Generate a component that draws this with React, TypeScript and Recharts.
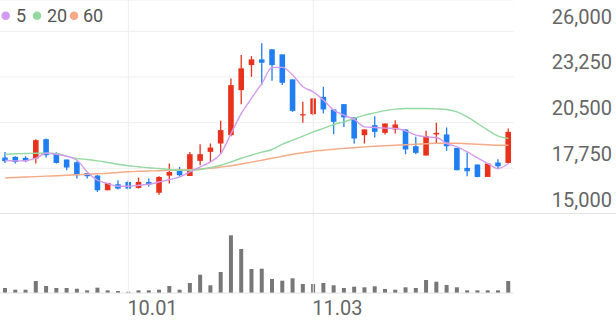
import React from 'react';
import { ComposedChart, BarChart, Bar, Line, XAxis, YAxis, CartesianGrid, ReferenceLine } from 'recharts';

const dates = [
  '09.15','09.16','09.17','09.18','09.19','09.22','09.23','09.24','09.25','09.26',
  '09.29','09.30','10.01','10.02','10.10','10.13','10.14','10.15','10.16','10.17',
  '10.20','10.21','10.22','10.23','10.24','10.27','10.28','10.29','10.30','10.31',
  '11.03','11.04','11.05','11.06','11.07','11.10','11.11','11.12','11.13','11.14',
  '11.17','11.18','11.19','11.20','11.21','11.24','11.25','11.26','11.27','11.28',
];

const opens = [
  18400,18440,18380,18340,19505,18640,18280,18120,17470,17315,
  16430,16790,16930,16570,16930,16280,17310,17635,17290,18200,
  18740,19245,19745,22460,23965,24310,24915,24610,23105,20935,
  21010,22055,21295,21615,20815,19745,20350,19885,20090,20090,
  19080,18520,19790,19790,18980,17775,17980,17230,18100,18075,
];
const highs = [
  18740,18480,18480,19505,19545,18720,18280,18180,17470,17350,
  16870,17030,17030,17195,17135,17275,18040,17835,18740,19200,
  19245,20610,23165,24570,24510,25275,24915,24610,23105,21755,
  21960,22660,21295,21615,20815,20090,20890,20450,20650,20090,
  19645,20005,20490,20210,18980,18700,17980,18040,18300,20150,
];
const lows = [
  18075,18040,18120,18040,18400,18040,17635,17135,17135,16325,
  16430,16470,16470,16530,16650,16160,16830,17230,17290,17935,
  18135,18600,19685,21615,23260,22760,23020,22760,21150,20490,
  20950,21055,19805,20245,19245,19245,19610,19790,19850,18600,
  18600,18520,19280,18800,17635,17275,17210,17230,17695,18040,
];
const closes = [
  18180,18140,18180,19445,18540,18075,17800,17335,17275,16430,
  16870,16530,16530,16930,16780,17230,17530,17335,18600,18600,
  19000,20050,22760,23770,24310,24105,23965,22900,21210,21010,
  21960,21295,20550,20815,19545,20090,19945,20450,20390,18885,
  18680,19685,19885,19080,17635,17575,17230,18040,17875,19945,
];

const ma5 = [
  18238,18196,18208,18359,18660,18600,18479,18238,17533,17032,
  16833,16670,16670,16731,16791,16930,17074,17231,17533,17834,
  18136,18642,19848,21054,21977,22863,23828,23828,23364,22658,
  22357,21856,21253,20952,20692,20246,20210,20168,20150,20005,
  19746,19643,19607,19245,19040,18739,18377,18039,17738,18039,
];
const ma20 = [
  18582,18630,18642,18660,18660,18642,18479,18341,18280,18196,
  18099,17997,17906,17846,17786,17738,17677,17635,17635,17677,
  17798,17937,18136,18359,18540,18721,18883,19203,19444,19685,
  19945,20150,20391,20548,20753,20952,21090,21223,21313,21356,
  21356,21356,21332,21295,21151,20849,20451,20047,19685,19547,
];
const ma60 = [
  17170,17200,17225,17250,17280,17300,17330,17360,17390,17420,
  17450,17500,17545,17570,17590,17605,17625,17645,17665,17710,
  17755,17830,17905,18010,18120,18240,18360,18480,18600,18690,
  18780,18840,18900,18950,18990,19040,19080,19110,19140,19170,
  19200,19230,19260,19260,19260,19230,19200,19170,19140,19140,
];

const volumes = [
  100000,66000,66000,240000,140000,100000,100000,86000,54000,106000,
  54000,40000,26000,54000,54000,66000,140000,66000,200000,366000,
  154000,420000,1154000,880000,480000,486000,280000,246000,294000,180000,
  180000,200000,154000,100000,126000,114000,134000,80000,66000,114000,
  100000,260000,226000,160000,114000,54000,54000,54000,54000,240000,
];

const priceTicks = [15000, 17750, 20500, 23250, 26000];
const priceTickLabels = ['15,000', '17,750', '20,500', '23,250', '26,000'];
const xTickLabels = ['10.01', '11.03'];
const legendNames = ['5', '20', '60'];

const RED = '#e8321c';
const BLUE = '#1f7ff2';
const C5 = '#d39bf0';
const C20 = '#94d9a2';
const C60 = '#f6aa86';
const GRID = '#eeeeee';
const FONT = 'Roboto, "Noto Sans", sans-serif';

const data = dates.map((d, i) => ({
  date: d,
  open: opens[i],
  high: highs[i],
  low: lows[i],
  close: closes[i],
  ma5: ma5[i],
  ma20: ma20[i],
  ma60: ma60[i],
  volume: volumes[i],
}));

const Candle = (props: any) => {
  const { x, y, width, height, payload } = props;
  if (!payload) return null;
  const { open, close, high, low } = payload;
  const top = Math.min(y, y + height);
  const h = Math.abs(height);
  const ratio = high === low ? 0 : h / (high - low);
  const cx = x + width / 2;
  const color = close >= open ? RED : BLUE;
  const bTop = top + (high - Math.max(open, close)) * ratio;
  const bBot = top + (high - Math.min(open, close)) * ratio;
  const bw = 5.6;
  return (
    <g>
      <line x1={cx} x2={cx} y1={top} y2={top + h} stroke={color} strokeWidth={1.3} />
      <rect x={cx - bw / 2} y={bTop} width={bw} height={Math.max(1.2, bBot - bTop)} fill={color} />
    </g>
  );
};

const PriceTick = (props: any) => {
  const { y, payload } = props;
  const idx = priceTicks.indexOf(payload.value);
  return (
    <text x={612} y={y - 7.5} textAnchor="end" fill="#666" fontSize={20} fontFamily={FONT}>
      {idx >= 0 ? priceTickLabels[idx] : ''}
    </text>
  );
};

const DateTick = (props: any) => {
  const { x, payload } = props;
  if (!xTickLabels.includes(payload.value)) return null;
  return (
    <text x={x - 1} y={101} textAnchor="start" fill="#666" fontSize={20} fontFamily={FONT}>
      {payload.value}
    </text>
  );
};

const legendColors = [C5, C20, C60];
const legendDotX = [5.7, 37, 74];
const legendTextX = [16, 47, 83];

export default function App() {
  return (
    <div style={{ position: 'absolute', left: 0, top: 0, width: 616, height: 321, background: '#fff', fontFamily: FONT }}>
      <div style={{ position: 'absolute', left: 0, top: 0 }}>
        <ComposedChart width={616} height={214} data={data} margin={{ top: 0, right: 0, bottom: 0, left: 0 }} barCategoryGap={0}>
          <CartesianGrid vertical={false} stroke={GRID} />
          <XAxis dataKey="date" hide />
          <YAxis
            orientation="right"
            width={102.5}
            domain={[15000, 27885]}
            allowDataOverflow
            ticks={priceTicks}
            interval={0}
            axisLine={false}
            tickLine={false}
            tick={<PriceTick />}
          />
          {xTickLabels.map((d) => (
            <ReferenceLine key={d} x={d} stroke={GRID} strokeWidth={1} />
          ))}
          <Line type="monotone" dataKey="ma60" stroke={C60} strokeWidth={1.4} dot={false} activeDot={false} isAnimationActive={false} />
          <Line type="monotone" dataKey="ma20" stroke={C20} strokeWidth={1.4} dot={false} activeDot={false} isAnimationActive={false} />
          <Line type="monotone" dataKey="ma5" stroke={C5} strokeWidth={1.4} dot={false} activeDot={false} isAnimationActive={false} />
          <Bar dataKey={(d: any) => [d.low, d.high]} shape={<Candle />} isAnimationActive={false} />
        </ComposedChart>
      </div>
      <div style={{ position: 'absolute', left: 0, top: 213, width: 616, height: 1, background: '#e4e4e4' }} />
      <div style={{ position: 'absolute', left: 0, top: 214 }}>
        <BarChart width={616} height={107} data={data} margin={{ top: 0, right: 102.5, bottom: 0, left: 0 }}>
          <XAxis
            dataKey="date"
            height={28}
            interval={0}
            axisLine={{ stroke: '#e4e4e4' }}
            tickLine={false}
            tick={<DateTick />}
          />
          <YAxis hide domain={[0, 1580000]} allowDataOverflow />
          {xTickLabels.map((d) => (
            <ReferenceLine key={d} x={d} stroke={GRID} strokeWidth={1} />
          ))}
          <Bar dataKey="volume" fill="#777777" barSize={4} isAnimationActive={false} />
        </BarChart>
      </div>
      <svg style={{ position: 'absolute', left: 0, top: 0 }} width={120} height={30}>
        {legendNames.map((n, i) => (
          <g key={n}>
            <circle cx={legendDotX[i]} cy={15.7} r={4.3} fill={legendColors[i]} />
            <text x={legendTextX[i]} y={22} fill="#555" fontSize={18} fontFamily={FONT}>{n}</text>
          </g>
        ))}
      </svg>
    </div>
  );
}
